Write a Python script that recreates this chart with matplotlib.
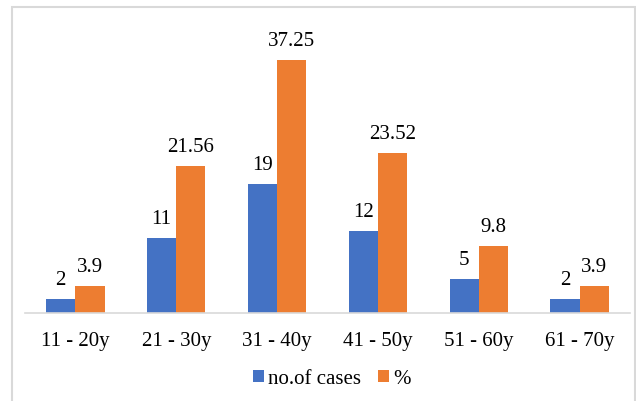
import matplotlib.pyplot as plt
from matplotlib.patches import Rectangle
import numpy as np

# Data
age_groups = ["11 - 20y", "21 - 30y", "31 - 40y", "41 - 50y", "51 - 60y", "61 - 70y"]
cases = [2, 11, 19, 12, 5, 2]
percent = [3.9, 21.56, 37.25, 23.52, 9.8, 3.9]
case_labels = ["2", "11", "19", "12", "5", "2"]
percent_labels = ["3.9", "21.56", "37.25", "23.52", "9.8", "3.9"]

blue = '#4472C4'
orange = '#ED7D31'
plt.rcParams['font.family'] = ['Liberation Serif', 'DejaVu Serif']

fig = plt.figure(figsize=(6.36, 4.01), dpi=100)
ax = fig.add_axes([25 / 636, 88 / 401, 605 / 636, 293 / 401])

x = np.arange(len(age_groups))
w = 0.29
b1 = ax.bar(x - w / 2, cases, w, color=blue, label='no.of cases')
b2 = ax.bar(x + w / 2, percent, w, color=orange, label='%')

for bars, labels in [(b1, case_labels), (b2, percent_labels)]:
    for rect, lab in zip(bars, labels):
        ax.annotate(lab, (rect.get_x() + rect.get_width() / 2, rect.get_height()),
                    xytext=(0, 6.5), textcoords='offset points', ha='center', va='bottom', fontsize=15)

ax.set_xlim(-0.5, len(age_groups) - 0.5)
ax.set_ylim(0, 43.1)
ax.set_xticks(x)
ax.set_xticklabels(age_groups, fontsize=15)
ax.set_yticks([])
ax.tick_params(axis='x', length=0, pad=14)
for s in ['top', 'right', 'left']:
    ax.spines[s].set_visible(False)
ax.spines['bottom'].set_color('#d9d9d9')
ax.spines['bottom'].set_linewidth(1.2)

fig.legend(loc='center', bbox_to_anchor=(332 / 636, 1 - 379 / 401), ncol=2, frameon=False,
           fontsize=15, handlelength=0.53, handleheight=0.53, handletextpad=0.2, columnspacing=0.8)

# chart border (bottom edge cut off)
fig.patches.append(Rectangle((11.5 / 636, -0.05), 623 / 636, 1.05 - 7.5 / 401,
                             transform=fig.transFigure, fill=False, edgecolor='#d9d9d9', lw=1.5))

fig.savefig("out.png", dpi=100)
